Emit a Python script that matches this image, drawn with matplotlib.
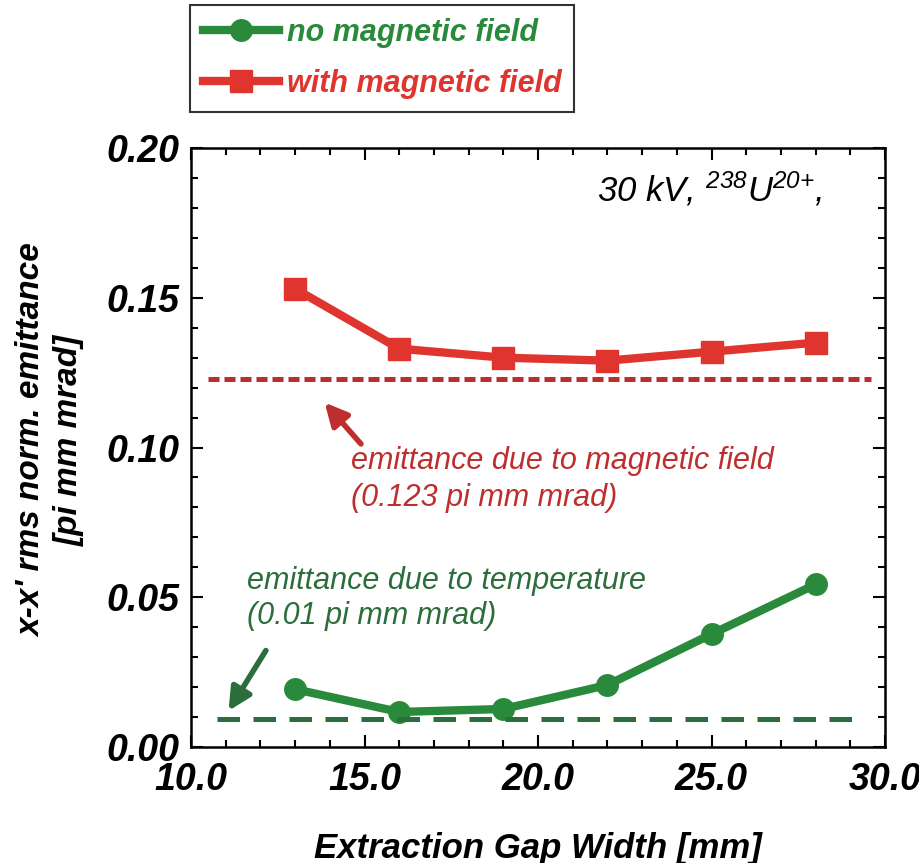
import matplotlib.pyplot as plt
from matplotlib.ticker import MultipleLocator, FormatStrFormatter

plt.rcParams['font.family'] = ['Liberation Sans', 'DejaVu Sans']
plt.rcParams['mathtext.fontset'] = 'custom'
plt.rcParams['mathtext.rm'] = 'Liberation Sans:italic'
plt.rcParams['mathtext.it'] = 'Liberation Sans:italic'

# data
gap_width = [13, 16, 19, 22, 25, 28]
no_field = [0.0193, 0.0117, 0.0127, 0.0207, 0.0377, 0.0543]
with_field = [0.153, 0.133, 0.130, 0.129, 0.132, 0.135]
field_level = 0.123
field_span = [10.5, 29.6]
temp_level = 0.0095
temp_span = [10.75, 29.2]

green = '#2a8a3c'
green_dark = '#2b6e3b'
red = '#e0352f'
red_dark = '#bf2e2e'

fig = plt.figure(figsize=(9.2, 8.63), dpi=100)
ax = fig.add_axes([0.2076, 0.1344, 0.7544, 0.6941])

ax.plot(gap_width, no_field, color=green, lw=6, marker='o', ms=15.5,
        label='no magnetic field')
ax.plot(gap_width, with_field, color=red, lw=6, marker='s', ms=16.5,
        label='with magnetic field')
ax.plot(field_span, [field_level, field_level], color=red_dark, lw=3.6,
        dashes=(2.2, 1.0))
ax.plot(temp_span, [temp_level, temp_level], color=green_dark, lw=3.6,
        dashes=(4.5, 2.7))

ax.set_xlim(10, 30)
ax.set_ylim(0, 0.20)
ax.xaxis.set_major_locator(MultipleLocator(5))
ax.xaxis.set_minor_locator(MultipleLocator(1))
ax.yaxis.set_major_locator(MultipleLocator(0.05))
ax.yaxis.set_minor_locator(MultipleLocator(0.01))
ax.xaxis.set_major_formatter(FormatStrFormatter('%.1f'))
ax.yaxis.set_major_formatter(FormatStrFormatter('%.2f'))
ax.tick_params(which='both', direction='in', top=True, right=True, width=1.5)
ax.tick_params(which='major', length=8.5)
ax.tick_params(which='minor', length=5)
ax.tick_params(axis='y', pad=8)
ax.tick_params(axis='x', pad=11)
for lab in ax.get_xticklabels() + ax.get_yticklabels():
    lab.set_fontsize(27)
    lab.set_fontweight('bold')
    lab.set_fontstyle('italic')
for sp in ax.spines.values():
    sp.set_linewidth(1.8)

ax.set_xlabel('Extraction Gap Width [mm]', fontsize=25, fontweight='bold',
              fontstyle='italic', labelpad=24)
ax.set_ylabel("x-x' rms norm. emittance\n[pi mm mrad]", fontsize=24,
              fontweight='bold', fontstyle='italic', linespacing=1.25)
ax.yaxis.set_label_coords(-0.153, 0.512)

ax.text(0.585, 0.932,
        r'30 kV, $\mathregular{^{238}}$U$\mathregular{^{20{+}}}$,',
        transform=ax.transAxes, fontsize=25, fontstyle='italic', va='center')

ax.text(14.6, 0.1005, 'emittance due to magnetic field\n(0.123 pi mm mrad)',
        color=red_dark, fontsize=22, fontstyle='italic', va='top',
        linespacing=1.3)
ax.annotate('', xy=(13.8, 0.1157), xytext=(14.95, 0.1005),
            arrowprops=dict(arrowstyle='-|>', color=red_dark, lw=4,
                            mutation_scale=34))

ax.text(11.6, 0.0495, 'emittance due to temperature\n(0.01 pi mm mrad)',
        color=green_dark, fontsize=22, fontstyle='italic', va='center',
        linespacing=1.2)
ax.annotate('', xy=(11.04, 0.0113), xytext=(12.2, 0.033),
            arrowprops=dict(arrowstyle='-|>', color=green_dark, lw=4,
                            mutation_scale=34))

leg = fig.legend(loc='upper left', bbox_to_anchor=(0.2065, 0.994),
                 frameon=True, fancybox=False, edgecolor='black',
                 prop={'size': 22, 'weight': 'bold', 'style': 'italic'},
                 handlelength=2.5, handletextpad=0.25, borderpad=0.42,
                 labelspacing=0.68, borderaxespad=0)
leg.get_frame().set_linewidth(1.5)
for txt, ln in zip(leg.get_texts(), leg.get_lines()):
    txt.set_color(ln.get_color())

# clipped fragment at the right edge
fig.add_artist(plt.Line2D([0.9995, 0.9995], [1 - 268 / 863, 1 - 314 / 863],
                          transform=fig.transFigure, color='#d42020', lw=2))

fig.savefig('out.png', dpi=100)
